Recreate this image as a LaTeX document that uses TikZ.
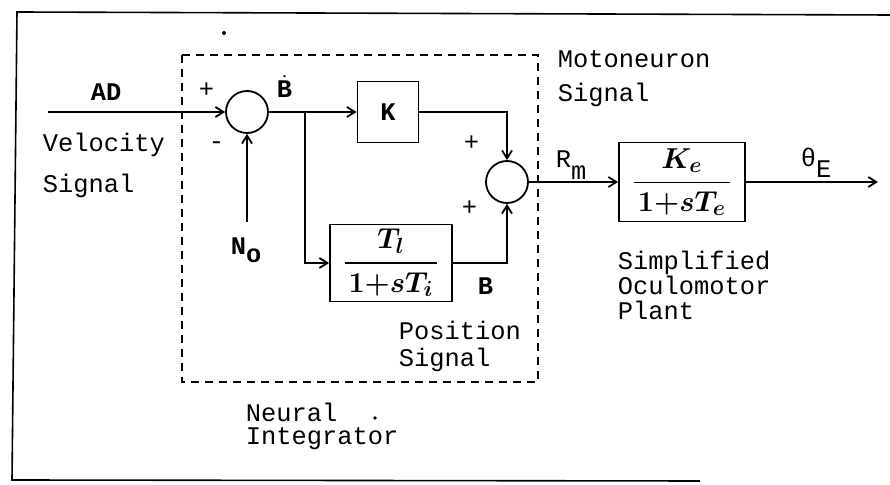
\documentclass[tikz,border=0pt]{standalone}
\usepackage{amsmath}
\usepackage{fontspec}
\setmonofont{Liberation Mono}
\usetikzlibrary{arrows.meta, positioning, calc}

\begin{document}
\begin{tikzpicture}[x=0.5pt, y=-0.5pt, >={Straight Barb[length=4pt,width=5pt]}, line width=0.9pt,
    lbl/.style={anchor=base west, inner sep=0pt, font=\fontsize{12.7}{14}\selectfont\ttfamily},
    bl/.style={lbl, font=\fontsize{12.7}{14}\selectfont\ttfamily\bfseries},
    blk/.style={draw, rectangle, inner sep=0pt},
    frac/.style={font=\fontsize{15}{17}\selectfont\boldmath},
    sumnode/.style={draw, circle, minimum size=21pt, inner sep=0pt},
    intbox/.style={dash pattern=on 4pt off 3pt}]
    \useasboundingbox (0,0) rectangle (890,485);

    % Frame
    \draw[line width=0.8pt] (700,481) -- (12,480) -- (17,12) -- (890,15);

    % Neural integrator box
    \draw[intbox] (182,55) rectangle (538,382);

    % Blocks
    \node[sumnode] (sumone) at (247,112) {};
    \node[sumnode] (sumtwo) at (507,182) {};
    \node[blk, minimum width=30.5pt, minimum height=30.5pt, font=\fontsize{12.7}{14}\selectfont\ttfamily\bfseries] (kbox) at (388,112) {K};
    \node[blk, frac, minimum width=61pt, minimum height=38.5pt] (tibox) at (391,263)
        {$\dfrac{T_l}{\hspace{2pt}1{+}sT_i\hspace{2pt}}$};
    \node[blk, frac, minimum width=63pt, minimum height=39.5pt] (kebox) at (682,182)
        {$\dfrac{K_e}{\hspace{2pt}1{+}sT_e\hspace{2pt}}$};

    % Connectors
    \coordinate (adin) at (48,112);
    \coordinate (noin) at (247,222);
    \coordinate (split) at (305,112);
    \coordinate (thout) at (878,182);
    \draw[->] (adin) -- (sumone.west);
    \draw[->] (noin) -- (sumone.south);
    \draw[->] (sumone.east) -- (kbox.west);
    \draw[->] (split) |- (tibox.west);
    \draw[->] (kbox.east) -| (sumtwo.north);
    \draw[->] (tibox.east) -| (sumtwo.south);
    \draw[->] (sumtwo.east) -- (kebox.west);
    \draw[->] (kebox.east) -- (thout);

    % Signs
    \node[lbl] (pa) at (198,98) {+};
    \node[lbl] (mb) at (208,150) {-};
    \node[lbl] (pc) at (463,151) {+};
    \node[lbl] (pd) at (461,216) {+};

    % Labels
    \node[bl] (ad) at (90,101) {AD};
    \node[bl] (bdot) at (276,98) {$\dot{\text{B}}$};
    \node[bl] (no) at (230,255) {N\raisebox{-4pt}{o}};
    \node[bl] (bb) at (477,295) {B};
    \node[lbl] (rm) at (555,168) {R\raisebox{-6pt}{m}};
    \node[lbl] (th) at (800,167) {θ\raisebox{-5.5pt}{E}};

    \node[lbl] (vel) at (42,152) {Velocity};
    \node[lbl] (vsig) at (42,193) {Signal};
    \node[lbl] (moto) at (557,68) {Motoneuron};
    \node[lbl] (msig) at (557,102) {Signal};
    \node[lbl] (pos) at (398,340) {Position};
    \node[lbl] (psig) at (398,367) {Signal};
    \node[lbl] (neu) at (245,422) {Neural};
    \node[lbl] (integ) at (245,445) {Integrator};
    \node[lbl] (simp) at (617,270) {Simplified};
    \node[lbl] (ocu) at (617,295) {Oculomotor};
    \node[lbl] (plant) at (617,320) {Plant};

    % Specks
    \fill (224,33) circle (1pt);
    \fill (375,418) circle (0.9pt);
\end{tikzpicture}
\end{document}
